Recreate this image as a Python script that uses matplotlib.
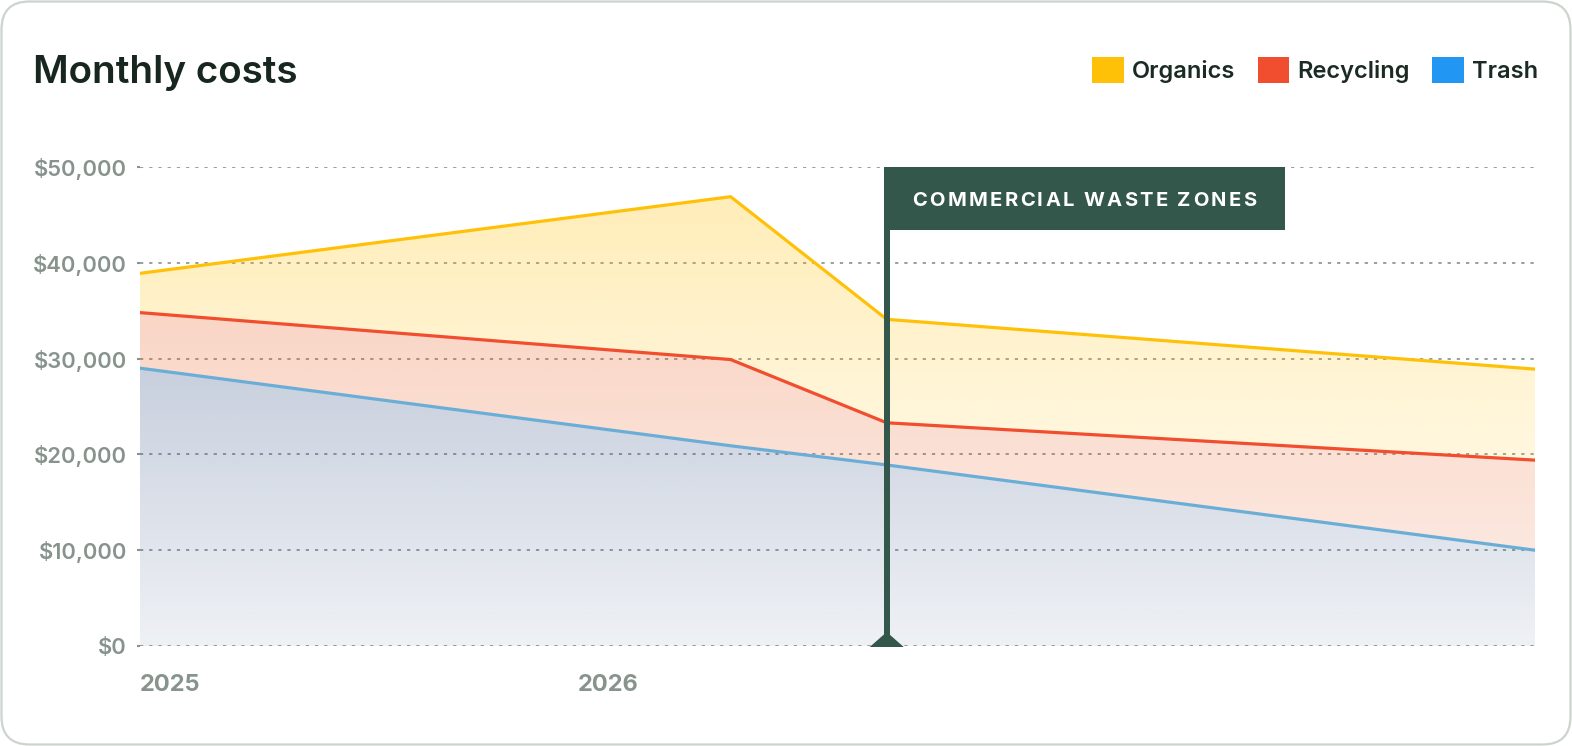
import numpy as np
import matplotlib
matplotlib.use('Agg')
import matplotlib.pyplot as plt
import matplotlib.dates as mdates
import matplotlib.colors as mcolors
from matplotlib.patches import FancyBboxPatch, Rectangle, Polygon, Patch
from matplotlib.transforms import IdentityTransform

# data
dates = np.array(['2025-01-01', '2026-05-08', '2026-09-15', '2028-03-08'], dtype='datetime64[D]')
trash = [29000, 20900, 18900, 10000]
recycling = [34800, 29900, 23300, 19400]
organics = [38900, 46900, 34100, 28900]
series_names = ['Organics', 'Recycling', 'Trash']
y_ticks = [0, 10000, 20000, 30000, 40000, 50000]
x_ticks = np.array(['2025-01-01', '2026-01-01'], dtype='datetime64[D]')
x_tick_labels = ['2025', '2026']
event_date = np.datetime64('2026-09-15')
event_label = 'COMMERCIAL WASTE ZONES'

c_org = '#ffc107'
c_rec = '#f04e2e'
c_rec_fill = '#ea5a1c'
c_tra = '#2196f3'
c_tra_line = '#6aaed8'
c_tra_fill = '#47618f'
green = '#33574a'
tick_col = '#87938d'

plt.rcParams['font.family'] = ['Inter', 'DejaVu Sans']

W, H = 1572, 746
fig = plt.figure(figsize=(W / 100, H / 100), dpi=100)
fig.patch.set_facecolor('white')

card = FancyBboxPatch((1.5, 1.5), W - 3, H - 3, boxstyle='round,pad=0,rounding_size=28',
                      transform=IdentityTransform(), fc='white', ec='#cdd3cd', lw=1.6, zorder=-1)
fig.patches.append(card)

ax = fig.add_axes([140 / W, 1 - 646 / H, (1535 - 140) / W, (646 - 167) / H])
ax.patch.set_alpha(0)
for s in ax.spines.values():
    s.set_visible(False)

xs = mdates.date2num(dates)
ymax = 50000


def gradient_fill(lower, upper, color, a_bottom, a_top, z):
    poly = ax.fill_between(xs, lower, upper, color='none', lw=0)
    path = poly.get_paths()[0]
    n = 256
    img = np.zeros((n, 1, 4))
    img[:, :, :3] = mcolors.to_rgb(color)
    img[:, 0, 3] = np.linspace(a_top, a_bottom, n)
    im = ax.imshow(img, extent=[xs[0], xs[-1], 0, ymax], aspect='auto',
                   origin='upper', zorder=z, interpolation='bilinear')
    im.set_clip_path(path, transform=ax.transData)


gradient_fill(np.zeros(len(xs)), trash, c_tra_fill, 0.09, 0.45, 1)
gradient_fill(trash, recycling, c_rec_fill, 0.10, 0.32, 1)
gradient_fill(recycling, organics, c_org, 0.02, 0.30, 1)

ax.plot(xs, trash, color=c_tra_line, lw=2.3, zorder=3, solid_joinstyle='miter')
ax.plot(xs, recycling, color=c_rec, lw=2.3, zorder=3, solid_joinstyle='miter')
ax.plot(xs, organics, color=c_org, lw=2.3, zorder=3, solid_joinstyle='miter')

ax.set_xlim(xs[0], xs[-1])
ax.set_ylim(0, ymax)

ax.set_yticks(y_ticks)
ax.set_yticklabels(['${:,.0f}'.format(v) for v in y_ticks])
ax.set_xticks(mdates.date2num(x_ticks))
ax.set_xticklabels(x_tick_labels)
ax.tick_params(axis='y', length=2, width=1.5, color=tick_col, pad=7.5,
               labelsize=15.8, labelcolor=tick_col)
ax.tick_params(axis='x', length=0, pad=20, labelsize=17, labelcolor=tick_col)
for lbl in ax.get_yticklabels():
    lbl.set_fontweight('semibold')
for lbl in ax.get_xticklabels():
    lbl.set_fontweight('bold')
    lbl.set_ha('left')

ax.grid(axis='y', color='#8f9993', lw=1.3, linestyle=(0, (1.8, 3.3)), zorder=0)
ax.set_axisbelow(True)

# event marker
ex, ey0 = ax.transData.transform((mdates.date2num(event_date), 0))
_, ey1 = ax.transData.transform((mdates.date2num(event_date), ymax))
fig.patches.append(Rectangle((ex - 3, ey0), 6, ey1 - ey0, transform=IdentityTransform(),
                             fc=green, ec='none', zorder=5))
fig.patches.append(Polygon([[ex - 17, ey0 - 1], [ex + 17, ey0 - 1], [ex, ey0 + 14]],
                           closed=True, transform=IdentityTransform(), fc=green, ec='none', zorder=5))
box_w, box_h = 401, 63
bx0 = ex - 3
fig.patches.append(Rectangle((bx0, ey1 - box_h), box_w, box_h, transform=IdentityTransform(),
                             fc=green, ec='none', zorder=5))

# letter-spaced label
renderer = fig.canvas.get_renderer()
kw = dict(fontsize=14.5, fontweight='bold', color='white')


def text_w(s):
    t = fig.text(0, 0, s, **kw)
    w = t.get_window_extent(renderer).width
    t.remove()
    return w


space_w = text_w('a a') - text_w('aa')
tracking = 2.35
widths = [space_w if ch == ' ' else text_w(ch) for ch in event_label]
total = sum(widths) + tracking * (len(widths) - 1)
cx = bx0 + box_w / 2
cy = ey1 - box_h / 2
x = cx - total / 2
for ch, w in zip(event_label, widths):
    if ch != ' ':
        fig.text(x / W, cy / H, ch, ha='left', va='center_baseline', zorder=6, **kw)
    x += w + tracking

fig.text(33 / W, 1 - 73 / H, 'Monthly costs', fontsize=27.8, fontweight='semibold',
         color='#17261f', va='center', ha='left')

handles = [Patch(fc=c_org, ec='none'), Patch(fc=c_rec, ec='none'), Patch(fc=c_tra, ec='none')]
leg = fig.legend(handles, series_names, loc='upper right', bbox_to_anchor=(1538 / W, 1 - 57 / H),
                 ncol=3, frameon=False, handlelength=1.33, handleheight=1.33,
                 handletextpad=0.35, columnspacing=0.95, borderaxespad=0, borderpad=0,
                 prop={'weight': 'semibold', 'size': 17})
for t in leg.get_texts():
    t.set_color('#1b2b24')

fig.savefig('out.png', dpi=100, facecolor='white')
